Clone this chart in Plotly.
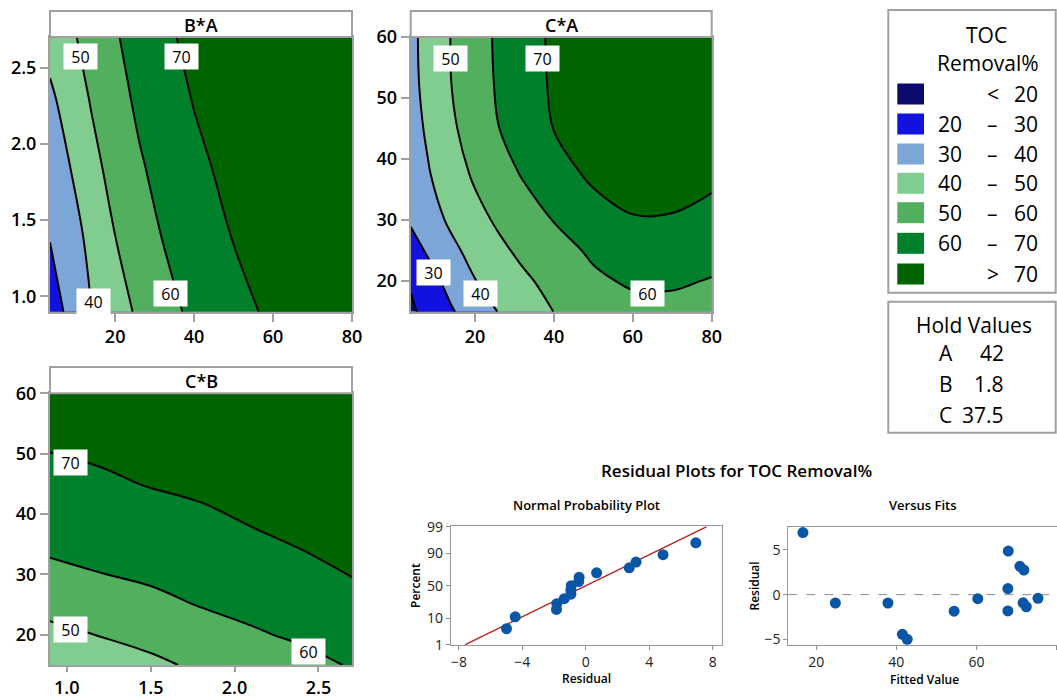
import plotly.graph_objects as go
from statistics import NormalDist

W, H = 1057, 699
FONT = "Open Sans, Noto Sans, sans-serif"

# ---------------- data ----------------
band_colors = ["#0B0B6B", "#1111E0", "#7CA6D8", "#81CD90", "#52AF5E", "#00802A", "#006400"]
legend_rows = [["", "<", "20"], ["20", "–", "30"], ["30", "–", "40"], ["40", "–", "50"],
               ["50", "–", "60"], ["60", "–", "70"], ["", ">", "70"]]
hold_names = ["A", "B", "C"]
hold_values = ["42", "1.8", "37.5"]

# B*A panel (x = A, y = B) : TOC removal %
ba_A = [3.5, 8, 14, 20, 26, 32, 40, 50, 60, 80]
ba_B = [0.9, 1.4, 1.85, 2.3, 2.7]
ba_Z = [
    [25.0, 31.6, 39.9, 45.8, 51.5, 56.6, 62.0, 67.2, 71.6, 76.0],
    [30.5, 35.5, 42.5, 50.0, 55.3, 60.3, 64.8, 70.4, 74.3, 80.0],
    [33.5, 39.2, 47.1, 53.5, 58.9, 62.9, 67.8, 72.8, 76.5, 82.0],
    [38.2, 43.7, 50.8, 56.7, 61.7, 65.5, 70.5, 75.5, 79.5, 85.0],
    [43.7, 47.9, 53.5, 59.2, 63.5, 68.0, 72.5, 76.5, 80.0, 86.0],
]

# C*A panel (x = A, y = C)
ca_A = [3.7, 8, 14, 20, 26, 32, 40, 50, 60, 70, 80]
ca_C = [15, 20, 25, 30, 37.5, 45, 52.5, 60]
ca_Z = [
    [18.4, 22.9, 29.1, 34.8, 40.3, 44.5, 50.1, 54.5, 57.0, 57.3, 56.0],
    [21.0, 26.2, 33.2, 39.7, 44.0, 48.2, 53.0, 58.4, 61.2, 61.2, 59.5],
    [26.1, 31.0, 37.8, 43.2, 47.9, 52.0, 56.6, 61.4, 64.5, 65.5, 63.1],
    [31.1, 35.7, 41.7, 46.9, 51.5, 55.3, 60.3, 66.0, 69.5, 69.3, 66.8],
    [34.5, 39.2, 45.5, 51.4, 56.0, 60.6, 66.1, 71.7, 73.5, 73.8, 72.2],
    [36.2, 41.3, 48.5, 54.4, 59.9, 64.3, 70.2, 74.5, 76.5, 77.0, 76.0],
    [37.4, 42.7, 50.0, 55.7, 61.1, 65.7, 71.2, 76.0, 78.5, 79.0, 78.0],
    [37.8, 43.0, 50.3, 56.1, 61.5, 66.0, 71.5, 77.0, 80.0, 80.5, 79.5],
]

# C*B panel (x = B, y = C)
cb_B = [0.9, 1.2, 1.5, 1.8, 2.1, 2.4, 2.7]
cb_C = [15, 20, 25, 30, 37.5, 45, 52.5, 60]
cb_Z = [
    [42.1, 45.1, 48.1, 51.6, 54.5, 57.4, 60.6],
    [47.8, 50.3, 52.9, 56.0, 59.0, 61.3, 63.8],
    [52.7, 55.0, 57.6, 60.4, 62.3, 64.4, 67.1],
    [58.3, 59.8, 61.5, 63.3, 65.2, 67.6, 70.3],
    [62.9, 64.3, 66.0, 67.7, 69.8, 72.0, 74.5],
    [67.3, 68.7, 70.4, 71.6, 73.3, 75.3, 77.6],
    [71.2, 72.2, 73.6, 74.6, 76.0, 78.0, 80.0],
    [74.2, 75.0, 76.2, 77.0, 78.2, 80.0, 82.0],
]

# Residual plots
fitted = [16.7, 24.8, 37.9, 41.5, 42.7, 54.4, 60.3, 67.9, 67.8, 67.8, 70.8, 71.8, 71.6, 72.4, 75.3]
residuals = [6.94, -0.94, -0.94, -4.45, -5.0, -1.85, -0.45, 4.87, 0.68, -1.83, 3.17, 2.74, -0.92, -1.36, -0.42]
normal_percent = [4.5, 11.0, 17.5, 24.0, 30.5, 37.0, 43.5, 50.0, 56.5, 63.0, 69.5, 76.0, 82.5, 89.0, 95.5]
fit_line_residual = [-7.6, 7.6]
fit_line_percent = [1, 99]
prob_ticks = [1, 10, 50, 90, 99]

# ---------------- helpers ----------------
def px(x):
    return x / W


def py(y):
    return 1 - y / H


def step_scale(colors):
    n = len(colors)
    scale = []
    for i, c in enumerate(colors):
        lo = 0 if i == 0 else (2 * i - 1) / (2 * (n - 1))
        hi = 1 if i == n - 1 else (2 * i + 1) / (2 * (n - 1))
        scale += [[lo, c], [hi, c]]
    return scale


def contour(x, y, z, xa, ya):
    return go.Contour(
        x=x, y=y, z=z, xaxis=xa, yaxis=ya,
        colorscale=step_scale(band_colors), showscale=False,
        autocontour=False,
        contours=dict(start=20, end=70, size=10, coloring="fill", showlines=True),
        line=dict(color="black", width=2, smoothing=1),
        hoverinfo="skip",
    )


nd = NormalDist()
fig = go.Figure()
fig.add_trace(contour(ba_A, ba_B, ba_Z, "x", "y"))
fig.add_trace(contour(ca_A, ca_C, ca_Z, "x2", "y2"))
fig.add_trace(contour(cb_B, cb_C, cb_Z, "x3", "y3"))

fig.add_trace(go.Scatter(
    x=fit_line_residual, y=[nd.inv_cdf(p / 100) for p in fit_line_percent],
    mode="lines", line=dict(color="#B22222", width=1.3), xaxis="x4", yaxis="y4", hoverinfo="skip"))
fig.add_trace(go.Scatter(
    x=sorted(residuals), y=[nd.inv_cdf(p / 100) for p in normal_percent],
    mode="markers", marker=dict(color="#0A56A6", size=11), xaxis="x4", yaxis="y4"))
fig.add_trace(go.Scatter(
    x=fitted, y=residuals, mode="markers",
    marker=dict(color="#0A56A6", size=11), xaxis="x5", yaxis="y5"))

FRAME = "#A0A0A0"
tick_big = dict(family=FONT, size=18, color="black", weight=600)
tick_small = dict(family=FONT, size=14, color="#222222")


def cax(domain, rng, tickvals, fmt=None, anchor=None, ticklen=8):
    d = dict(domain=domain, range=rng, tickvals=tickvals, ticks="outside", ticklen=ticklen,
             tickcolor=FRAME, tickwidth=2, showline=True, mirror=True, linecolor=FRAME,
             linewidth=2, showgrid=False, zeroline=False, tickfont=tick_big, anchor=anchor,
             automargin=False)
    if fmt:
        d["tickformat"] = fmt
    return d


def rax(domain, rng, tickvals, anchor, ticktext=None, mirror=True):
    d = dict(domain=domain, range=rng, tickvals=tickvals, ticks="outside", ticklen=4,
             tickcolor="#909090", showline=True, mirror=mirror, linecolor="#9A9A9A",
             linewidth=1, showgrid=False, zeroline=False, tickfont=tick_small, anchor=anchor,
             automargin=False)
    if ticktext:
        d["ticktext"] = ticktext
    return d


top_y = [py(311.7), py(37)]
fig.update_layout(
    template="none",
    width=W, height=H, margin=dict(l=0, r=0, t=0, b=0, pad=0, autoexpand=False),
    paper_bgcolor="white", plot_bgcolor="white", showlegend=False,
    font=dict(family=FONT, color="black"),
    xaxis=cax([px(50), px(352)], [3.5, 80], [20, 40, 60, 80], anchor="y"),
    yaxis=cax(top_y, [0.9, 2.7], [1.0, 1.5, 2.0, 2.5], ".1f", anchor="x"),
    xaxis2=cax([px(410.7), px(711.7)], [3.7, 80], [20, 40, 60, 80], anchor="y2"),
    yaxis2=cax(top_y, [15, 60], [20, 30, 40, 50, 60], anchor="x2"),
    xaxis3=cax([px(50), px(352)], [0.9, 2.7], [1.0, 1.5, 2.0, 2.5], ".1f", anchor="y3", ticklen=5),
    yaxis3=cax([py(665), py(393.3)], [15, 60], [20, 30, 40, 50, 60], anchor="x3"),
    xaxis4=rax([px(450.7), px(721.7)], [-8.52, 8.57], [-8, -4, 0, 4, 8], "y4"),
    yaxis4=rax([py(645), py(526)], [-2.34, 2.36], [nd.inv_cdf(p / 100) for p in prob_ticks], "x4",
               ticktext=[str(p) for p in prob_ticks]),
    xaxis5=rax([px(788.3), 1.0], [13.06, 80.05], [20, 40, 60, 80], "y5"),
    yaxis5=rax([py(645), py(526.7)], [-5.64, 7.6], [-5, 0, 5], "x5", mirror=False),
)

shapes = []
annotations = []


def rect(x0, y0, x1, y1, fill="white", line=FRAME, width=2):
    shapes.append(dict(type="rect", xref="paper", yref="paper", x0=px(x0), x1=px(x1),
                       y0=py(y1), y1=py(y0), fillcolor=fill,
                       line=dict(color=line, width=width), layer="above"))


def text(x, y, s, size, weight=400, xanchor="center", angle=0, color="black"):
    annotations.append(dict(x=px(x), y=py(y), xref="paper", yref="paper", text=s,
                            showarrow=False, xanchor=xanchor, yanchor="middle", textangle=angle,
                            font=dict(family=FONT, size=size, color=color, weight=weight)))


# panel title strips
for (x0, y0, x1, y1, t) in [(50, 11, 352, 37, "B*A"), (410.7, 11, 711.7, 37, "C*A"),
                            (50, 367, 352, 393.3, "C*B")]:
    rect(x0, y0, x1, y1)
    text((x0 + x1) / 2, (y0 + y1) / 2 + 0.5, t, 18, 600)

# contour level labels
for xr, yr, x, y, s in [("x", "y", 11.1, 2.57, "50"), ("x", "y", 36.9, 2.57, "70"),
                        ("x", "y", 14.5, 0.97, "40"), ("x", "y", 34.1, 1.02, "60"),
                        ("x2", "y2", 13.8, 56.5, "50"), ("x2", "y2", 37.2, 56.5, "70"),
                        ("x2", "y2", 9.4, 21.5, "30"), ("x2", "y2", 21.5, 18.0, "40"),
                        ("x2", "y2", 63.8, 18.0, "60"),
                        ("x3", "y3", 1.02, 48.5, "70"), ("x3", "y3", 1.02, 20.8, "50"),
                        ("x3", "y3", 2.44, 17.3, "60")]:
    annotations.append(dict(x=x, y=y, xref=xr, yref=yr, text=s, showarrow=False,
                            bgcolor="white", width=31, height=23, borderpad=1,
                            font=dict(family=FONT, size=16, color="black")))

# legend box
rect(888.3, 10, 1055.7, 292.7)
text(986.7, 35, "TOC", 21)
text(988, 63.3, "Removal%", 21)
row_y = [94, 124, 154, 183.3, 212.7, 243.3, 274]
for (a, dash, b), c, yy in zip(legend_rows, band_colors, row_y):
    shapes.append(dict(type="rect", xref="paper", yref="paper", x0=px(897.3), x1=px(924),
                       y0=py(yy + 10.5), y1=py(yy - 10.5), fillcolor=c, line=dict(width=0)))
    if a:
        text(936, yy, a, 21, xanchor="left")
    text(992.5, yy, dash, 21)
    text(1040, yy, b, 21, xanchor="right")

# hold values box
rect(888.3, 301.7, 1055.7, 432.7)
text(974, 325, "Hold Values", 21)
for n, v, yy in zip(hold_names, hold_values, [352.7, 384, 415]):
    text(945.7, yy, n, 21)
    text(1006, yy, v, 21, xanchor="right")

# residual plot titles
text(736.5, 470, "Residual Plots for TOC Removal%", 17, 600)
text(586.5, 505, "Normal Probability Plot", 13, 600)
text(923.3, 505, "Versus Fits", 13, 600)
text(586.5, 678, "Residual", 12, 600)
text(415, 586, "Percent", 12, 600, angle=-90)
text(924, 679, "Fitted Value", 12, 600)
text(753.5, 586, "Residual", 12, 600, angle=-90)

# zero reference line on versus fits
shapes.append(dict(type="line", xref="x5 domain", yref="y5", x0=0, x1=1, y0=0, y1=0,
                   line=dict(color="#8C8C8C", width=1, dash="dash"), layer="below"))

fig.update_layout(shapes=shapes, annotations=annotations)
fig.write_html(
    "out.html",
    config={"displayModeBar": False},
    post_script="document.body.style.margin='0';document.documentElement.style.overflow='hidden';",
)
